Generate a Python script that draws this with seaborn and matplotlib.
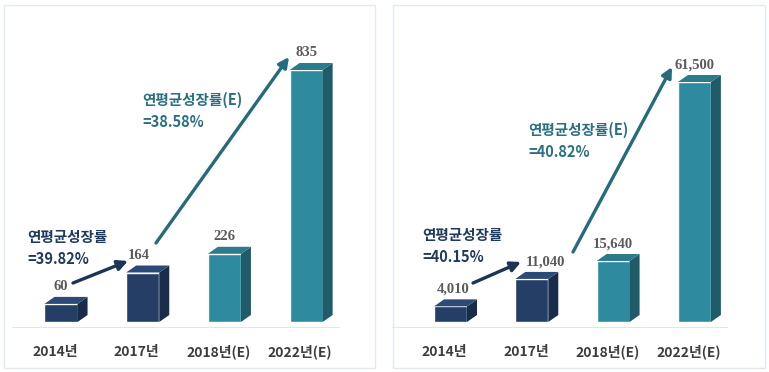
import matplotlib
matplotlib.use("Agg")
import matplotlib.pyplot as plt
import matplotlib.transforms as mtransforms
from matplotlib.patches import Polygon, Rectangle
import seaborn as sns

# data
years = ["2014년", "2017년", "2018년(E)", "2022년(E)"]
left_values = [60, 164, 226, 835]
left_labels = ["60", "164", "226", "835"]
right_values = [4010, 11040, 15640, 61500]
right_labels = ["4,010", "11,040", "15,640", "61,500"]
left_cagr = ["연평균성장률\n=39.82%", "연평균성장률(E)\n=38.58%"]
right_cagr = ["연평균성장률\n=40.15%", "연평균성장률(E)\n=40.82%"]

sns.set_style("white")
plt.rcParams['font.family'] = ['Noto Sans CJK KR', 'DejaVu Sans']

NAVY = "#243e66"
TEAL = "#2e8a9e"
side = {NAVY: "#192c49", TEAL: "#1f5c6a"}
top = {NAVY: "#2c4a76", TEAL: "#2b7b8c"}
bar_colors = [NAVY, NAVY, TEAL, TEAL]

W, H = 769, 372
fig = plt.figure(figsize=(W / 100, H / 100), dpi=100)
fig.patch.set_facecolor("white")

# light panel frames
for x0, x1 in [(4, 375), (393, 765)]:
    fig.add_artist(Rectangle((x0 / W, (H - 368) / H), (x1 - x0) / W, 363 / H,
                             transform=fig.transFigure, fill=False,
                             edgecolor="#e2e9f0", linewidth=1))


def draw_panel(left_px, width_px, values, labels, xlim, ylim, cagr, arrows, texts, nudges):
    ax = fig.add_axes([left_px / W, (H - 328) / H, width_px / W, 288 / H])
    sns.barplot(x=years, y=values, hue=years, palette=bar_colors, legend=False,
                width=0.405, saturation=1, ax=ax)
    ax.set_xlim(*xlim)
    ax.set_ylim(*ylim)
    ax.set_facecolor("none")
    sns.despine(ax=ax, left=True, bottom=True)
    ax.set_yticks([])
    ax.set_xlabel("")
    ax.set_ylabel("")
    ax.tick_params(axis="x", length=0, pad=12)
    for t in ax.get_xticklabels():
        t.set_fontsize(10)
        t.set_fontweight("bold")
        t.set_color("#3d3d3d")
        t.set_transform(t.get_transform() + mtransforms.ScaledTranslation(-6 / 100, 0, fig.dpi_scale_trans))
    ax.axhline(ylim[0], color="#d9e1e9", linewidth=1.2)

    # fake 3d: side and top faces from the bar patches
    inv = ax.transData.inverted()
    dx, dy = 10, 7
    for p, c in zip(ax.patches, bar_colors):
        x0, x1 = p.get_x(), p.get_x() + p.get_width()
        h = p.get_height()
        (ax0, ay0), (ax1, ay1) = ax.transData.transform([(x0, 0), (x1, h)])
        side_pts = inv.transform([(ax1, ay0), (ax1 + dx, ay0 + dy), (ax1 + dx, ay1 + dy), (ax1, ay1)])
        top_pts = inv.transform([(ax0, ay1), (ax1, ay1), (ax1 + dx, ay1 + dy), (ax0 + dx, ay1 + dy)])
        ax.add_patch(Polygon(side_pts, closed=True, facecolor=side[c], edgecolor="none", zorder=3))
        ax.add_patch(Polygon(top_pts, closed=True, facecolor=top[c], edgecolor="none", zorder=3))

    for i, (v, lab) in enumerate(zip(values, labels)):
        ax.annotate(lab, (i, v), xytext=(nudges[i], 12.5), textcoords="offset points",
                    ha="center", va="center", fontsize=10.5, fontweight="bold",
                    color="#5a5a5a", family="Liberation Serif")

    arrow_colors = ["#1d3455", "#256b7b"]
    for (start, end), col in zip(arrows, arrow_colors):
        ax.annotate("", xy=(end[0], H - end[1]), xycoords="figure pixels",
                    xytext=(start[0], H - start[1]), textcoords="figure pixels",
                    arrowprops=dict(arrowstyle="-|>,head_length=0.6,head_width=0.3",
                                    color=col, lw=2.4, shrinkA=0, shrinkB=0))
    text_colors = ["#1f3a5c", "#2a7081"]
    for txt, pos, col in zip(cagr, texts, text_colors):
        fig.text(pos[0] / W, (H - pos[1]) / H, txt, ha="left", va="top",
                 fontsize=10.5, fontweight="bold", color=col, linespacing=1.45)
    return ax


draw_panel(12, 328, left_values, left_labels, (-0.6, 3.415), (-19.9, 934.4), left_cagr,
           arrows=[((73, 283), (128, 261)), ((156, 243), (289, 57))],
           texts=[(27, 229), (142, 92)], nudges=[0, -3, 0, 0])
draw_panel(392, 336, right_values, right_labels, (-0.72, 3.413), (-1537.5, 72262), right_cagr,
           arrows=[((473, 283), (521, 262)), ((573, 252), (672, 67))],
           texts=[(422, 227), (528, 122)], nudges=[2, 10, 0, 0])

fig.savefig("out.png", dpi=100, facecolor="white")
